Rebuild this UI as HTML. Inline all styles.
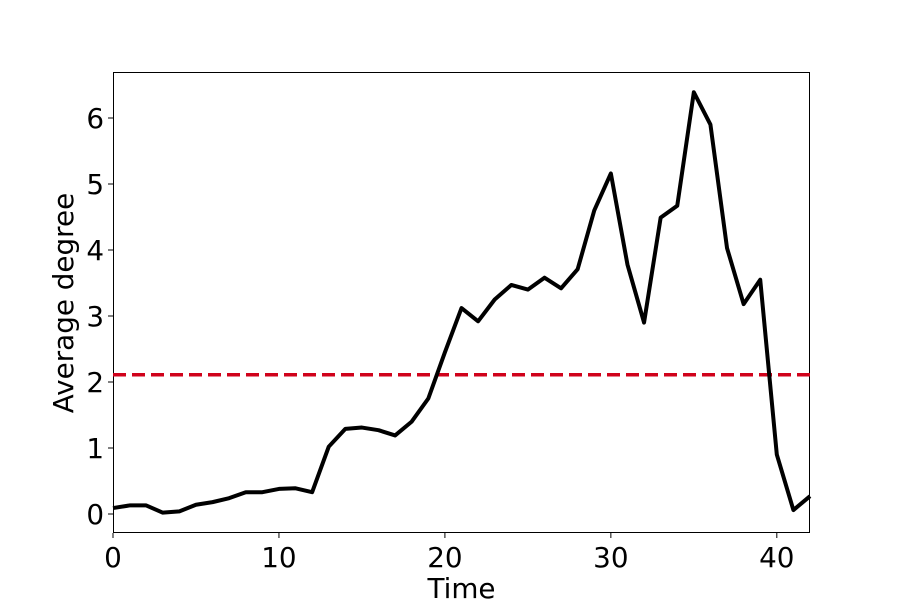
<!DOCTYPE html>
<html><head><meta charset="utf-8"><style>
body{margin:0;background:#fff;}
text{font-family:"DejaVu Sans","Liberation Sans",sans-serif;fill:#000;}
</style></head><body>
<svg id="chart" width="900" height="600" xmlns="http://www.w3.org/2000/svg"></svg>
<script>
const times=[0,1,2,3,4,5,6,7,8,9,10,11,12,13,14,15,16,17,18,19,20,21,22,23,24,25,26,27,28,29,30,31,32,33,34,35,36,37,38,39,40,41,42];
const avgDegree=[0.09,0.13,0.13,0.02,0.04,0.14,0.18,0.24,0.33,0.33,0.38,0.39,0.33,1.02,1.29,1.31,1.27,1.19,1.40,1.75,2.45,3.12,2.92,3.25,3.47,3.40,3.58,3.42,3.71,4.6,5.16,3.78,2.9,4.49,4.67,6.39,5.9,4.03,3.18,3.55,0.9,0.06,0.27];
const threshold=[2.11];
const xTicks=[0,10,20,30,40];
const yTicks=[0,1,2,3,4,5,6];
const NS="http://www.w3.org/2000/svg";
const svg=document.getElementById('chart');
const L=113,R=810,T=72,B=533;
const xs=v=>L+v*(R-L)/42;
const ys=v=>514-v*66;
function mk(tag,attrs,parent){const e=document.createElementNS(NS,tag);for(const k in attrs)e.setAttribute(k,attrs[k]);(parent||svg).appendChild(e);return e;}
const frame=mk('rect',{x:L+0.5,y:T+0.5,width:R-L-1,height:B-T-1,fill:'none',stroke:'#000','stroke-width':1});


xTicks.forEach(t=>{
 const l=mk('line',{x1:xs(t),x2:xs(t),y1:B,y2:B+5,stroke:'#000'});
 
 
 const tx=mk('text',{x:xs(t),y:B+34,'text-anchor':'middle','font-size':27.8});tx.textContent=t;
 
 
});
yTicks.forEach(t=>{
 const l=mk('line',{x1:L-5,x2:L,y1:ys(t),y2:ys(t),stroke:'#000'});
 
 
 const tx=mk('text',{x:L-9,y:ys(t)+10,'text-anchor':'end','font-size':27.8});tx.textContent=t;
 
 
});
const th=mk('line',{x1:L,x2:R,y1:ys(threshold[0]),y2:ys(threshold[0]),stroke:'#d0021b','stroke-width':3.5,'stroke-dasharray':'13,6'});


const pts=times.map((t,i)=>xs(t)+','+ys(avgDegree[i])).join(' ');
const pl=mk('polyline',{points:pts,fill:'none',stroke:'#000','stroke-width':4,'stroke-linejoin':'round'});


const xl=mk('text',{x:(L+R)/2,y:598,'text-anchor':'middle','font-size':27.8});xl.textContent='Time';


const yl=mk('text',{x:0,y:0,'text-anchor':'middle','font-size':27.8,transform:'translate(73,303) rotate(-90)'});yl.textContent='Average degree';


</script>
</body></html>
